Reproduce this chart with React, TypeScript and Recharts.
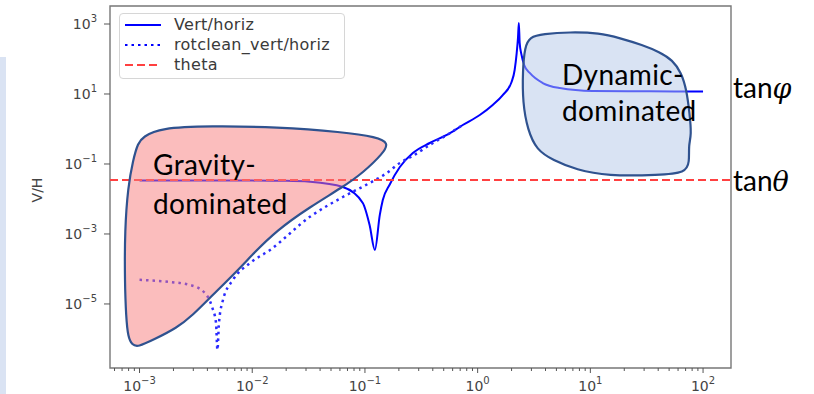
import React from "react";
import {
  ComposedChart,
  Line,
  Scatter,
  XAxis,
  YAxis,
  ReferenceArea,
  Legend,
} from "recharts";

// Both axes are logarithmic; these are the edges of the plot frame.
const X_MIN = 5.47e-4;
const X_MAX = 177;
const Y_MIN = 1.48e-7;
const Y_MAX = 3270;

const xMajorTicks = [1e-3, 1e-2, 1e-1, 1, 10, 100];
const xMinorDecades = [1e-3, 1e-2, 1e-1, 1, 10];
const xMinorTicks = [
  6e-4, 7e-4, 8e-4, 9e-4,
  ...xMinorDecades.flatMap((d) => [2, 3, 4, 5, 6, 7, 8, 9].map((m) => m * d)),
];
const yTicks = [1e3, 1e1, 1e-1, 1e-3, 1e-5];

// tan(theta) threshold, drawn across the whole frame
const tanTheta = 0.0349;
const thetaLine = [
  { x: X_MIN, y: tanTheta },
  { x: X_MAX, y: tanTheta },
];

// V/H ratio against frequency
const vertHoriz = [
  { x: 0.001, y: 0.034 },
  { x: 0.003, y: 0.034 },
  { x: 0.01, y: 0.0335 },
  { x: 0.02, y: 0.033 },
  { x: 0.0325, y: 0.031 },
  { x: 0.0637, y: 0.022 },
  { x: 0.0957, y: 0.0077 },
  { x: 0.11, y: 0.0018 },
  { x: 0.1225, y: 0.00035 },
  { x: 0.1355, y: 0.0035 },
  { x: 0.144, y: 0.0093 },
  { x: 0.166, y: 0.026 },
  { x: 0.204, y: 0.082 },
  { x: 0.266, y: 0.206 },
  { x: 0.376, y: 0.398 },
  { x: 0.532, y: 0.674 },
  { x: 0.738, y: 1.3 },
  { x: 1.045, y: 2.51 },
  { x: 1.36, y: 4.85 },
  { x: 1.67, y: 9.36 },
  { x: 2.0, y: 22 },
  { x: 2.13, y: 48.5 },
  { x: 2.22, y: 148 },
  { x: 2.28, y: 400 },
  { x: 2.32, y: 1070 },
  { x: 2.36, y: 290 },
  { x: 2.44, y: 140 },
  { x: 2.6, y: 65 },
  { x: 2.9, y: 40 },
  { x: 3.78, y: 20.6 },
  { x: 5.35, y: 14.8 },
  { x: 10.5, y: 12.2 },
  { x: 33.6, y: 11.9 },
  { x: 100, y: 11.8 },
];

// rotation-cleaned V/H
const rotcleanVertHoriz = [
  { x: 0.001, y: 4.9e-5 },
  { x: 0.00186, y: 4.25e-5 },
  { x: 0.0028, y: 3.5e-5 },
  { x: 0.0038, y: 2.06e-5 },
  { x: 0.0044, y: 8.2e-6 },
  { x: 0.00477, y: 2.9e-6 },
  { x: 0.00491, y: 4.85e-7 },
  { x: 0.00507, y: 2.9e-6 },
  { x: 0.0055, y: 1.3e-5 },
  { x: 0.00675, y: 4.9e-5 },
  { x: 0.00955, y: 1.48e-4 },
  { x: 0.0144, y: 3.5e-4 },
  { x: 0.0325, y: 0.0031 },
  { x: 0.0637, y: 0.0114 },
  { x: 0.11, y: 0.0286 },
  { x: 0.156, y: 0.055 },
  { x: 0.204, y: 0.107 },
  { x: 0.266, y: 0.17 },
  { x: 0.376, y: 0.35 },
  { x: 0.532, y: 0.674 },
  { x: 0.738, y: 1.3 },
];

// outline of the gravity-dominated region (clockwise)
const gravityOutline = [
  { x: 1.07e-3, y: 0.59 },
  { x: 1.52e-3, y: 1.07 },
  { x: 4.2e-3, y: 1.22 },
  { x: 0.0166, y: 1.14 },
  { x: 0.0637, y: 0.82 },
  { x: 0.127, y: 0.59 },
  { x: 0.163, y: 0.4 },
  { x: 0.146, y: 0.206 },
  { x: 0.0957, y: 0.0553 },
  { x: 0.0637, y: 0.022 },
  { x: 0.0325, y: 0.0059 },
  { x: 0.0166, y: 0.0013 },
  { x: 0.00955, y: 2.2e-4 },
  { x: 0.00828, y: 1.3e-4 },
  { x: 0.0042, y: 1.48e-5 },
  { x: 0.00298, y: 4.85e-6 },
  { x: 0.00215, y: 2.06e-6 },
  { x: 0.00132, y: 9.4e-7 },
  { x: 9.7e-4, y: 5.9e-7 },
  { x: 8.6e-4, y: 6.7e-7 },
  { x: 7.9e-4, y: 1.14e-6 },
  { x: 7.6e-4, y: 4.25e-6 },
  { x: 7.4e-4, y: 4.0e-5 },
  { x: 7.4e-4, y: 1.3e-3 },
  { x: 7.9e-4, y: 0.022 },
  { x: 8.75e-4, y: 0.13 },
  { x: 9.7e-4, y: 0.4 },
];

// outline of the dynamic-dominated region (clockwise)
const dynamicOutline = [
  { x: 2.9, y: 425 },
  { x: 3.78, y: 518 },
  { x: 6.56, y: 591 },
  { x: 12.1, y: 553 },
  { x: 18.2, y: 398 },
  { x: 29.1, y: 251 },
  { x: 41.1, y: 158 },
  { x: 53.7, y: 93.6 },
  { x: 64.4, y: 39.8 },
  { x: 71.4, y: 13.0 },
  { x: 75.9, y: 2.87 },
  { x: 79.1, y: 0.674 },
  { x: 74.3, y: 0.349 },
  { x: 75.9, y: 0.114 },
  { x: 70.0, y: 0.0553 },
  { x: 41.1, y: 0.0485 },
  { x: 14.0, y: 0.0454 },
  { x: 7.56, y: 0.0674 },
  { x: 4.63, y: 0.13 },
  { x: 3.34, y: 0.251 },
  { x: 2.78, y: 0.936 },
  { x: 2.51, y: 5.53 },
  { x: 2.51, y: 48.5 },
  { x: 2.62, y: 220 },
];

const legendRows = [
  { label: "Vert/horiz", color: "#0000ff", dash: undefined },
  { label: "rotclean_vert/horiz", color: "#0000ff", dash: "2.5 4" },
  { label: "theta", color: "#ff4040", dash: "8 4" },
];

const TICK_FONT = "'DejaVu Sans', sans-serif";
const SLIDE_FONT = "Lato, 'Open Sans', sans-serif";

const supExp = (e: number) => (e < 0 ? "\u2212" + Math.abs(e) : String(e));

const XTick = (props: any) => {
  const { x, y, payload } = props;
  const lg = Math.log10(payload.value);
  const e = Math.round(lg);
  const major = Math.abs(lg - e) < 1e-6;
  return (
    <g>
      <line x1={x} x2={x} y1={y} y2={y + (major ? 5 : 3)} stroke="#555" strokeWidth={1} />
      {major && (
        <text x={x} y={y + 23} textAnchor="middle" fontFamily={TICK_FONT} fontSize={14} fill="#444">
          10
          <tspan dy={-7} fontSize={10}>
            {supExp(e)}
          </tspan>
        </text>
      )}
    </g>
  );
};

const YTick = (props: any) => {
  const { x, y, payload } = props;
  const e = Math.round(Math.log10(payload.value));
  return (
    <text x={x} y={y + 5} textAnchor="end" fontFamily={TICK_FONT} fontSize={14} fill="#444">
      10
      <tspan dy={-7} fontSize={10}>
        {supExp(e)}
      </tspan>
    </text>
  );
};

const LegendBox = () => (
  <div
    style={{
      boxSizing: "border-box",
      width: 226,
      height: 66,
      border: "1px solid #d6d6d6",
      borderRadius: 4,
      background: "rgba(255,255,255,0.8)",
      padding: "1px 0 0 5px",
      fontFamily: TICK_FONT,
      fontSize: 16,
      letterSpacing: 0.3,
      color: "#3a3a3a",
    }}
  >
    {legendRows.map((r) => (
      <div key={r.label} style={{ display: "flex", alignItems: "center", height: 20 }}>
        <svg width={36} height={20} style={{ marginRight: 13, flex: "none" }}>
          <line x1={0} x2={36} y1={10} y2={10} stroke={r.color} strokeWidth={2} strokeDasharray={r.dash} />
        </svg>
        <span style={{ lineHeight: "20px", whiteSpace: "nowrap" }}>{r.label}</span>
      </div>
    ))}
  </div>
);

const noPoint = () => <g />;

export default function App() {
  return (
    <div style={{ position: "absolute", left: 0, top: 0, width: 814, height: 394, background: "#fff" }}>
      <div style={{ position: "absolute", left: 0, top: 57, width: 6, height: 337, background: "#dae3f3" }} />
      <ComposedChart width={814} height={394} margin={{ top: 6, right: 83, bottom: 0, left: 0 }}>
        <XAxis
          type="number"
          dataKey="x"
          scale="log"
          domain={[X_MIN, X_MAX]}
          allowDataOverflow
          ticks={[...xMajorTicks, ...xMinorTicks]}
          interval={0}
          height={26}
          tickSize={0}
          tickMargin={0}
          tickLine={false}
          axisLine={false}
          tick={<XTick />}
        />
        <YAxis
          type="number"
          scale="log"
          domain={[Y_MIN, Y_MAX]}
          allowDataOverflow
          ticks={yTicks}
          interval={0}
          width={110}
          tickSize={6}
          tickMargin={7}
          tickLine={{ stroke: "#555" }}
          axisLine={false}
          tick={<YTick />}
          label={({ viewBox }: any) => (
            <text
              x={37}
              y={viewBox.y + viewBox.height / 2 + 3}
              transform={`rotate(-90, 37, ${viewBox.y + viewBox.height / 2 + 3})`}
              textAnchor="middle"
              dominantBaseline="central"
              fontFamily={TICK_FONT}
              fontSize={14}
              fill="#444"
            >
              V/H
            </text>
          )}
        />
        <ReferenceArea
          x1={X_MIN}
          x2={X_MAX}
          y1={Y_MIN}
          y2={Y_MAX}
          fill="none"
          stroke="#777"
          strokeWidth={1.4}
          ifOverflow="visible"
        />
        <Line
          data={vertHoriz}
          dataKey="y"
          name="Vert/horiz"
          type="monotone"
          stroke="#0000ff"
          strokeWidth={2}
          dot={false}
          isAnimationActive={false}
        />
        <Line
          data={rotcleanVertHoriz}
          dataKey="y"
          name="rotclean_vert/horiz"
          type="monotone"
          stroke="#2a2aff"
          strokeWidth={2.5}
          strokeDasharray="2.5 4"
          dot={false}
          isAnimationActive={false}
        />
        <Line
          data={thetaLine}
          dataKey="y"
          name="theta"
          type="linear"
          stroke="#ff4040"
          strokeWidth={2}
          strokeDasharray="8 4"
          dot={false}
          isAnimationActive={false}
        />
        <Scatter
          data={gravityOutline}
          dataKey="y"
          shape={noPoint}
          line={{ fill: "rgba(248,124,124,0.5)", stroke: "#2f528f", strokeWidth: 2.2 }}
          lineType="joint"
          lineJointType="basisClosed"
          legendType="none"
          isAnimationActive={false}
        />
        <Scatter
          data={dynamicOutline}
          dataKey="y"
          shape={noPoint}
          line={{ fill: "rgba(180,199,231,0.5)", stroke: "#2f528f", strokeWidth: 2.2 }}
          lineType="joint"
          lineJointType="basisClosed"
          legendType="none"
          isAnimationActive={false}
        />
        <Legend
          layout="vertical"
          align="center"
          verticalAlign="middle"
          content={<LegendBox />}
          wrapperStyle={{ left: 119, top: 13, width: 226, height: 66 }}
        />
      </ComposedChart>
      <svg
        width={814}
        height={394}
        style={{ position: "absolute", left: 0, top: 0, pointerEvents: "none" }}
        fontFamily={SLIDE_FONT}
        fontSize={28}
        fill="#000"
      >
        <g letterSpacing={0.4}>
          <text x={153} y={175}>Gravity-</text>
          <text x={153} y={214}>dominated</text>
          <text x={562} y={85}>Dynamic-</text>
          <text x={562} y={121}>dominated</text>
        </g>
        <text x={733} y={98}>
          tan
          <tspan fontFamily="'DejaVu Serif', serif" fontStyle="italic" fontSize={27}>
            {"\u03C6"}
          </tspan>
        </text>
        <text x={733} y={191}>
          tan
          <tspan fontFamily="'DejaVu Serif', serif" fontStyle="italic" fontSize={27}>
            {"\u03B8"}
          </tspan>
        </text>
      </svg>
    </div>
  );
}
